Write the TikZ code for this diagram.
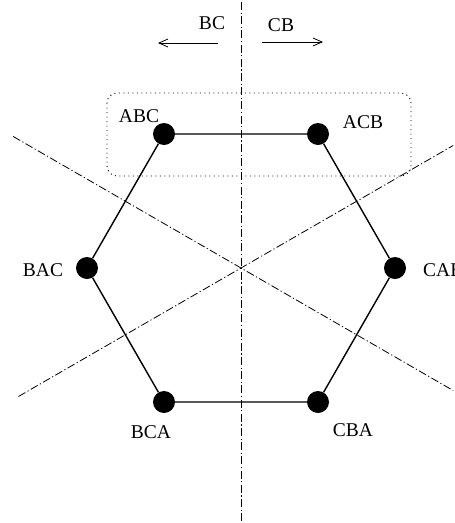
\documentclass[tikz,border=0pt]{standalone}
\usepackage{fontspec}
\setmainfont{Liberation Serif}
\usetikzlibrary{arrows.meta,calc}
\begin{document}
\begin{tikzpicture}[x=1pt,y=-1pt,
  perm/.style={circle,fill=black,inner sep=0pt,minimum size=22pt},
  lbl/.style={inner sep=0pt,font=\fontsize{19.5}{23}\selectfont},
  edge/.style={line width=1.4pt},
  axis/.style={line width=0.8pt,dash pattern=on 8pt off 2.5pt on 1.2pt off 2.5pt},
  group/.style={line width=0.9pt,dash pattern=on 1pt off 3.5pt,rounded corners=10pt},
  move/.style={line width=0.8pt,-{Straight Barb[length=9pt,width=8pt]}}]
\useasboundingbox (0,0) rectangle (455,523);

% symmetry axes through the centre (y grows downwards, so angles are mirrored)
\coordinate (O) at (241,268);
\coordinate (vt) at (241,2);
\coordinate (vb) at (241,523);
\coordinate (d1a) at ($(O)+(210:263)$);
\coordinate (d1b) at ($(O)+(30:245)$);
\coordinate (d2a) at ($(O)+(150:257)$);
\coordinate (d2b) at ($(O)+(-30:245)$);
\draw[axis] (vt) -- (vb);
\draw[axis] (d1a) -- (d1b);
\draw[axis] (d2a) -- (d2b);

% group box around the top edge
\draw[group] (107,93) rectangle (411,176);

% hexagon of permutations
\node[perm] (abc) at (164,134) {};
\node[perm] (acb) at (318,134) {};
\node[perm] (cab) at (395,268) {};
\node[perm] (cba) at (318,402) {};
\node[perm] (bca) at (164,402) {};
\node[perm] (bac) at (87,268) {};
\draw[edge] (abc) -- (acb) -- (cab) -- (cba) -- (bca) -- (bac) -- (abc);

\node[lbl] (labc) at (139,116) {ABC};
\node[lbl] (lacb) at (363,122) {ACB};
\node[lbl,anchor=west] (lcab) at (423,270.5) {CAB};
\node[lbl] (lcba) at (353,430) {CBA};
\node[lbl] (lbca) at (151,432) {BCA};
\node[lbl] (lbac) at (43,270.5) {BAC};

% swap directions
\node[lbl] (tbc) at (212,23.5) {BC};
\node[lbl] (tcb) at (281,25) {CB};
\coordinate (al1) at (218,43);
\coordinate (al2) at (158,43);
\coordinate (ar1) at (262,42);
\coordinate (ar2) at (323,42);
\draw[move] (al1) -- (al2);
\draw[move] (ar1) -- (ar2);
\end{tikzpicture}
\end{document}
